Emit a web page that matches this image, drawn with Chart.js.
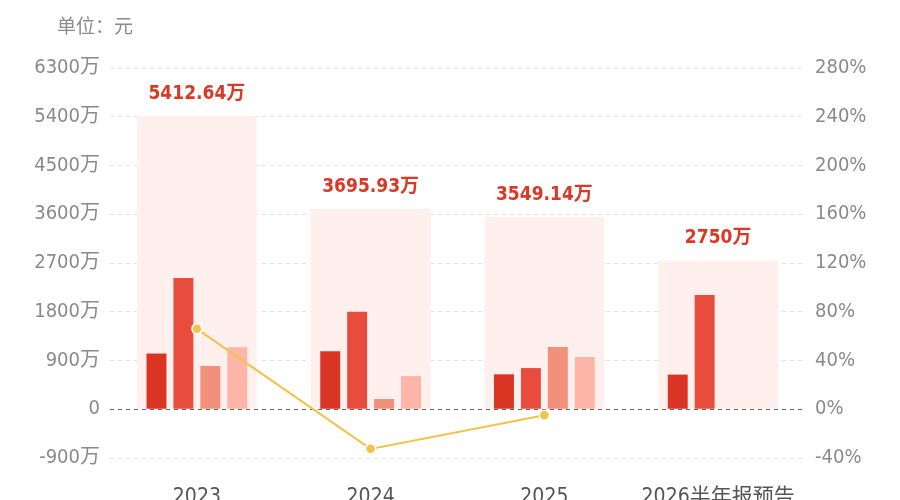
<!DOCTYPE html>
<html>
<head>
<meta charset="utf-8">
<script src="https://cdn.jsdelivr.net/npm/chart.js@4/dist/chart.umd.min.js"></script>
<style>
  html, body { margin: 0; padding: 0; background: #fff; overflow: hidden; }
  #wrap { position: relative; width: 900px; height: 510px; }
  #unit { position: absolute; left: 57px; top: 11px; font: 19px "DejaVu Sans Condensed", "Noto Sans CJK SC", sans-serif; color: #8a8a8a; }
</style>
</head>
<body>
<div id="wrap">
  <div id="unit">单位：元</div>
  <canvas id="myChart"></canvas>
</div>
<script>
// data
const years = ["2023", "2024", "2025", "2026半年报预告"];
const totals = [5412.64, 3695.93, 3549.14, 2750];
const totalLabels = ["5412.64万", "3695.93万", "3549.14万", "2750万"];
const seriesA = [1030, 1070, 645, 640];
const seriesB = [2425, 1800, 760, 2110];
const seriesC = [800, 190, 1150, null];
const seriesD = [1145, 612, 965, null];
const growth = [66, -32.5, -4.9, null];

const leftTicks = { min: -900, max: 6300, step: 900 };
const rightTicks = { min: -40, max: 280, step: 40 };

const fontName = '"DejaVu Sans Condensed", "Noto Sans CJK SC", sans-serif';

// labels above the pale total bars
const totalLabelPlugin = {
  id: "totalLabel",
  afterDatasetsDraw(chart) {
    const ctx = chart.ctx;
    const meta = chart.getDatasetMeta(0);
    ctx.save();
    ctx.font = "bold 19px " + fontName;
    ctx.fillStyle = "#d93a25";
    ctx.textAlign = "center";
    ctx.textBaseline = "alphabetic";
    meta.data.forEach(function (bar, i) {
      ctx.fillText(totalLabels[i], bar.x, bar.y - 17);
    });
    ctx.restore();
  }
};

new Chart(document.getElementById("myChart"), {
  type: "bar",
  data: {
    labels: years,
    datasets: [
      {
        label: "total",
        data: totals,
        backgroundColor: "#fff0ed",
        grouped: false,
        categoryPercentage: 1,
        barPercentage: 0.69,
        order: 3,
        yAxisID: "y"
      },
      { label: "a", data: seriesA, backgroundColor: "#da3424", order: 2, yAxisID: "y" },
      { label: "b", data: seriesB, backgroundColor: "#e84c3c", order: 2, yAxisID: "y" },
      { label: "c", data: seriesC, backgroundColor: "#f38f7d", order: 2, yAxisID: "y" },
      { label: "d", data: seriesD, backgroundColor: "#fcb5a7", order: 2, yAxisID: "y" },
      {
        type: "line",
        label: "growth",
        data: growth,
        borderColor: "#f1c34a",
        backgroundColor: "#f1c34a",
        borderWidth: 2,
        pointRadius: 5,
        pointBorderColor: "#ffffff",
        pointBorderWidth: 1.5,
        tension: 0,
        order: 1,
        yAxisID: "y1"
      }
    ]
  },
  options: {
    responsive: true,
    maintainAspectRatio: false,
    animation: false,
    layout: { padding: { top: 68, left: 0, right: 0, bottom: 0 } },
    datasets: {
      bar: { categoryPercentage: 0.62, barPercentage: 0.74 }
    },
    plugins: {
      legend: { display: false },
      tooltip: { enabled: false }
    },
    scales: {
      x: {
        grid: { display: false, drawTicks: false },
        border: { display: false },
        ticks: { color: "#555", font: { family: fontName, size: 21 }, padding: 27, maxRotation: 0 },
        afterFit(scale) { scale.height = 52; }
      },
      y: {
        position: "left",
        min: leftTicks.min,
        max: leftTicks.max,
        ticks: {
          stepSize: leftTicks.step,
          color: "#8a8a8a",
          padding: 10,
          font: { family: fontName, size: 20 },
          callback: function (v) { return v === 0 ? "0" : v + "万"; }
        },
        grid: {
          drawTicks: false,
          color: function (c) { return c.tick && c.tick.value === 0 ? "#666" : "#e2e2e2"; }
        },
        border: { display: false, dash: [4, 4] },
        afterFit(scale) { scale.width = 110; }
      },
      y1: {
        position: "right",
        min: rightTicks.min,
        max: rightTicks.max,
        ticks: {
          stepSize: rightTicks.step,
          color: "#8a8a8a",
          padding: 10,
          font: { family: fontName, size: 20 },
          callback: function (v) { return v + "%"; }
        },
        grid: { drawOnChartArea: false, drawTicks: false },
        border: { display: false },
        afterFit(scale) { scale.width = 95; }
      }
    }
  },
  plugins: [totalLabelPlugin]
});
</script>
</body>
</html>
